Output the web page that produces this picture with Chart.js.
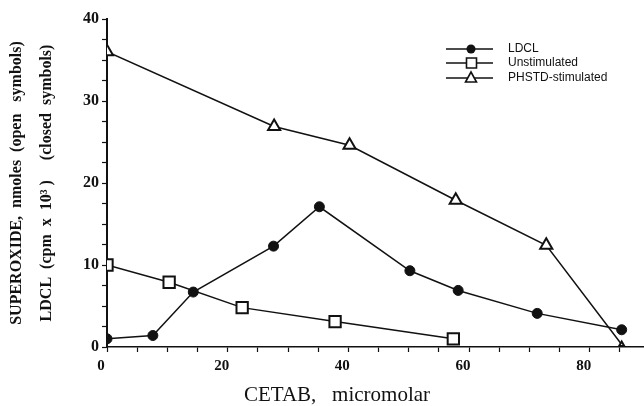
<!DOCTYPE html>
<html>
<head>
<meta charset="utf-8">
<script src="https://cdn.jsdelivr.net/npm/chart.js@4/dist/chart.umd.min.js"></script>
<style>
  html, body { margin: 0; padding: 0; background: #fff; }
  #wrap { width: 644px; height: 406px; position: relative; }
</style>
</head>
<body>
<div id="wrap"><canvas id="c" width="644" height="406"></canvas></div>
<script>
// values (x = CETAB, micromolar)
const ldclX   = [0, 7.6, 14.3, 27.6, 35.2, 50.2, 58.2, 71.3, 85.3];
const ldclY   = [1.0, 1.4, 6.7, 12.3, 17.1, 9.3, 6.9, 4.1, 2.1];
const unstimX = [0, 10.3, 22.4, 37.8, 57.4];
const unstimY = [10.0, 7.9, 4.8, 3.1, 1.0];
const phstdX  = [0, 27.7, 40.2, 57.8, 72.8, 85.3];
const phstdY  = [36.0, 26.9, 24.6, 17.9, 12.4, 0.3];

const seriesNames = ['LDCL', 'Unstimulated', 'PHSTD-stimulated'];
const xTitle = 'CETAB,   micromolar';
const yTitle = ['SUPEROXIDE,  nmoles  (open   symbols)', 'LDCL  (cpm  x  10\u00B3 )     (closed  symbols)'];

const pts = (xs, ys) => xs.map((x, i) => ({ x, y: ys[i] }));
const INK = '#111';
const SERIF = '"Liberation Serif", "Times New Roman", serif';

// legend drawn as line + marker, like the printed key
const keyPlugin = {
  id: 'key',
  afterDraw(chart) {
    const ctx = chart.ctx;
    ctx.save();
    const rows = [49, 63, 78];
    chart.data.datasets.forEach((ds, i) => {
      const y = rows[i];
      ctx.strokeStyle = INK; ctx.lineWidth = 1.6;
      ctx.beginPath(); ctx.moveTo(446, y); ctx.lineTo(493, y); ctx.stroke();
      ctx.beginPath();
      if (ds.pointStyle === 'circle') {
        ctx.arc(471, y, 4.5, 0, Math.PI * 2);
        ctx.fillStyle = INK; ctx.fill();
      } else if (ds.pointStyle === 'rect') {
        ctx.rect(466.5, y - 5, 10, 10);
        ctx.fillStyle = '#fff'; ctx.fill(); ctx.lineWidth = 1.6; ctx.stroke();
      } else {
        ctx.moveTo(471, y - 6); ctx.lineTo(476.5, y + 4); ctx.lineTo(465.5, y + 4); ctx.closePath();
        ctx.fillStyle = '#fff'; ctx.fill(); ctx.lineWidth = 1.6; ctx.stroke();
      }
      ctx.fillStyle = INK;
      ctx.font = '12px "Liberation Sans", Arial, sans-serif';
      ctx.textBaseline = 'middle';
      ctx.fillText(ds.label, 508, y);
    });
    // x axis title sits left of centre in the print
    ctx.font = '21px ' + SERIF;
    ctx.textAlign = 'center';
    ctx.textBaseline = 'alphabetic';
    ctx.fillText(xTitle, 337, 401);
    ctx.restore();
  }
};

new Chart(document.getElementById('c'), {
  type: 'scatter',
  data: {
    datasets: [
      { label: seriesNames[0], data: pts(ldclX, ldclY), showLine: true,
        borderColor: INK, borderWidth: 1.5, pointStyle: 'circle', pointRadius: 5,
        pointBackgroundColor: INK, pointBorderColor: INK, pointBorderWidth: 1 },
      { label: seriesNames[1], data: pts(unstimX, unstimY), showLine: true,
        borderColor: INK, borderWidth: 1.5, pointStyle: 'rect', pointRadius: 8,
        pointBackgroundColor: '#fff', pointBorderColor: INK, pointBorderWidth: 2 },
      { label: seriesNames[2], data: pts(phstdX, phstdY), showLine: true,
        borderColor: INK, borderWidth: 1.5, pointStyle: 'triangle', pointRadius: [7, 7, 7, 7, 7, 3],
        pointBackgroundColor: '#fff', pointBorderColor: INK, pointBorderWidth: 2 }
    ]
  },
  options: {
    responsive: false,
    animation: false,
    layout: { autoPadding: false, padding: { top: 19, right: 0, left: 0, bottom: 0 } },
    plugins: { legend: { display: false }, tooltip: { enabled: false } },
    scales: {
      x: {
        type: 'linear', min: 0, max: 89,
        afterFit: s => { s.height = 59; s.paddingLeft = 0; s.paddingRight = 0; },
        border: { display: true, color: INK, width: 1.5 },
        grid: { drawOnChartArea: false, drawTicks: true, tickLength: 5, color: INK, tickWidth: 1.2 },
        ticks: {
          stepSize: 5, includeBounds: false, maxRotation: 0, autoSkip: false, padding: 5, color: INK,
          labelOffset: -6,
          font: { family: SERIF, size: 15, weight: 'bold' },
          callback: v => (v % 20 === 0 ? v : '')
        },
        title: { display: false }
      },
      y: {
        min: 0, max: 40,
        afterFit: s => { s.width = 107; s.paddingTop = 0; s.paddingBottom = 0; },
        border: { display: true, color: INK, width: 2 },
        grid: { drawOnChartArea: false, drawTicks: true, tickLength: 5, color: INK, tickWidth: 1.2 },
        ticks: {
          stepSize: 2.5, autoSkip: false, padding: 3, color: INK,
          font: { family: SERIF, size: 16, weight: 'bold' },
          callback: v => (v % 10 === 0 ? v : '')
        },
        title: {
          display: true, text: yTitle, color: INK,
          font: { family: SERIF, size: 16, weight: 'bold', lineHeight: '30px' },
          padding: { top: 2, bottom: 0 }
        }
      }
    }
  },
  plugins: [keyPlugin]
});
</script>
</body>
</html>
